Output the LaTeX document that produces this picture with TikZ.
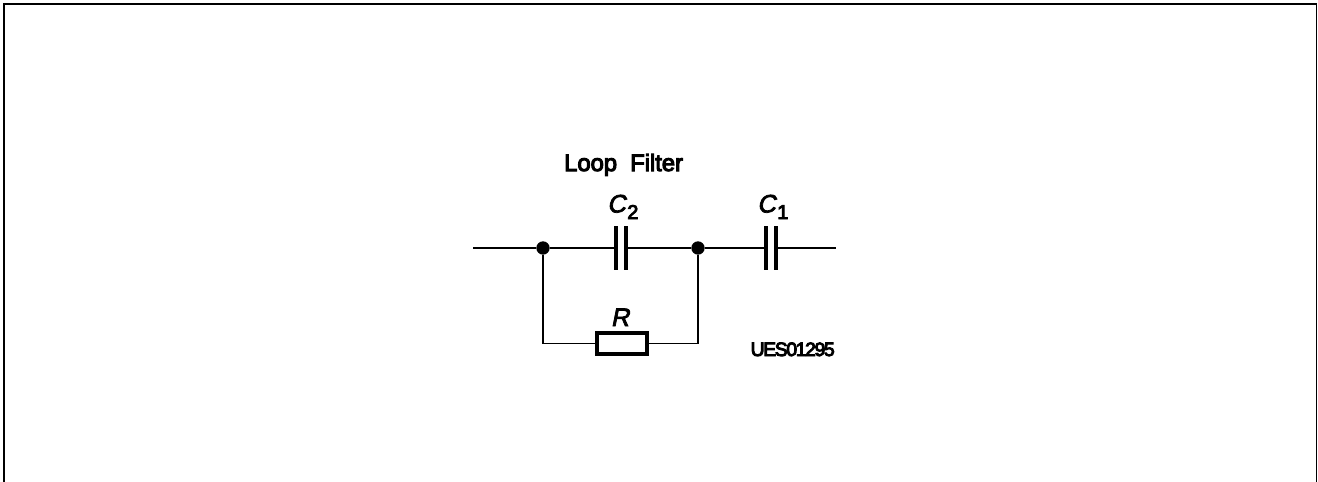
\documentclass[tikz,border=0pt]{standalone}
\usepackage{fontspec}
\setmainfont{Liberation Sans}
\newfontfamily\codefont[LetterSpace=-7,FakeBold=5]{Liberation Sans}
\newfontfamily\titlefont[FakeBold=4.5]{Liberation Sans}
\newfontfamily\partfont[FakeSlant=0.2,FakeBold=3]{Liberation Sans}
\usepackage{tikz}
\usetikzlibrary{positioning}

\tikzset{
    wire/.style={line width=1.25pt},
    plate/.style={rectangle,fill=black,inner sep=0pt,minimum width=3pt,minimum height=33pt},
    junction/.style={circle,fill=black,inner sep=0pt,minimum size=10pt},
    resistor/.style={rectangle,draw,line width=3pt,fill=white,inner sep=0pt,minimum width=37.5pt,minimum height=15.5pt},
    partlabel/.style={inner sep=0pt,font=\partfont\fontsize{19}{19}\selectfont},
    partindex/.style={inner sep=0pt,font=\titlefont\fontsize{15}{15}\selectfont}
}

\begin{document}
\begin{tikzpicture}[x=0.75pt,y=-0.75pt]
    \useasboundingbox (0,0) rectangle (1318,482);
    % Open frame
    \coordinate (frameA) at (4,482);
    \coordinate (frameB) at (4,4);
    \coordinate (frameC) at (1316.5,4);
    \coordinate (frameD) at (1316.5,482);
    \draw[line width=1.1pt] (frameA) -- (frameB) -- (frameC) -- (frameD);

    \coordinate (in) at (473,248);
    \coordinate (out) at (835.5,248);
    \node[junction] (jleft) at (543,248) {};
    \node[junction] (jright) at (698,248) {};
    \node[plate] (c2a) at (616,248) {};
    \node[plate] (c2b) at (625.5,248) {};
    \node[plate] (c1a) at (766,248) {};
    \node[plate] (c1b) at (775.5,248) {};
    \node[resistor] (res) at (621.5,343.5) {};
    \coordinate (bleft) at (543,343.5);
    \coordinate (bright) at (698,343.5);

    \draw[wire] (in) -- (jleft) -- (c2a);
    \draw[wire] (c2b) -- (jright) -- (c1a);
    \draw[wire] (c1b) -- (out);
    \draw[wire] (jleft) -- (bleft) -- (res);
    \draw[wire] (res) -- (bright) -- (jright);

    \node[partlabel,anchor=base west] (c2lab) at (607,212.5) {C};
    \node[partindex,anchor=base west] (c2idx) at (627,219) {2};
    \node[partlabel,anchor=base west] (c1lab) at (757,212.5) {C};
    \node[partindex,anchor=base west] (c1idx) at (777,219) {1};
    \node[partlabel,anchor=base] (rlab) at (620,326) {R};

    \node[inner sep=0pt,anchor=base west,font=\titlefont\fontsize{17.8}{17.8}\selectfont] (title) at (564,171) {Loop\ \ Filter};
    \node[inner sep=0pt,anchor=base east,font=\codefont\fontsize{14.5}{14.5}\selectfont] (code) at (835,356) {UES01295};
\end{tikzpicture}
\end{document}
